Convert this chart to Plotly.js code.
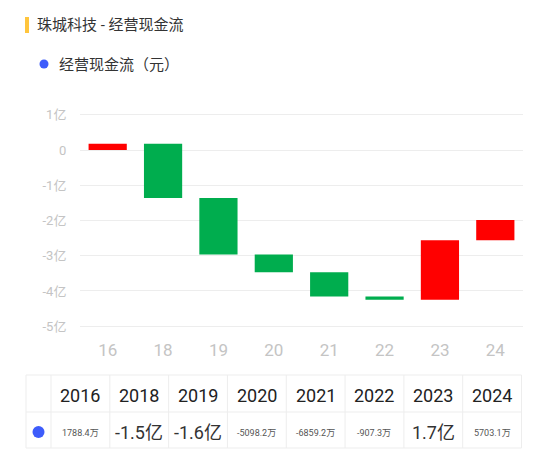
<!DOCTYPE html>
<html>
<head>
<meta charset="utf-8">
<script src="https://cdn.plot.ly/plotly-3.0.1.min.js"></script>
<style>html,body{margin:0;padding:0;background:#fff;}#chart{width:550px;height:453px;}</style>
</head>
<body>
<div id="chart"></div>
<script>
// ---- data ----
const categories = ['16', '18', '19', '20', '21', '22', '23', '24'];
const years = ['2016', '2018', '2019', '2020', '2021', '2022', '2023', '2024'];
// operating cash flow, unit: 亿元
const cashFlow = [0.178840, -1.54, -1.60, -0.509822, -0.685922, -0.090730, 1.69, 0.570310];
const valueLabels = ['1788.4万', '-1.5亿', '-1.6亿', '-5098.2万', '-6859.2万', '-907.3万', '1.7亿', '5703.1万'];
const yTickVals = [1, 0, -1, -2, -3, -4, -5];
const yTickText = ['1亿', '0', '-1亿', '-2亿', '-3亿', '-4亿', '-5亿'];
const chartTitle = '珠城科技 - 经营现金流';
const seriesName = '经营现金流（元）';

// ---- layout geometry ----
const W = 550, H = 453;
const M = {l: 80, r: 27, t: 113, b: 125};
const plotW = W - M.l - M.r, plotH = H - M.t - M.b;
const px = x => (x - M.l) / plotW;
const py = y => 1 - (y - M.t) / plotH;
const FONT = 'Roboto, "Noto Sans CJK SC", sans-serif';
const BLUE = '#3d5cfb';
const GRID = '#ededed';

const shapes = [];
const annotations = [];

// title marker
shapes.push({type: 'rect', xref: 'paper', yref: 'paper', x0: px(25), x1: px(29), y0: py(17), y1: py(33),
  fillcolor: '#ffc53d', line: {width: 0}});
// legend
shapes.push({type: 'circle', xref: 'paper', yref: 'paper', x0: px(39.5), x1: px(48.5), y0: py(59.5), y1: py(68.5),
  fillcolor: BLUE, line: {width: 0}});
annotations.push({xref: 'paper', yref: 'paper', x: px(57), y: py(64.5), xanchor: 'left', yanchor: 'middle',
  text: seriesName, showarrow: false, font: {family: FONT, size: 15, color: '#333'}});

// table
const tL = 26, tFirst = 51, tR = 521.5, rowY = [375, 412, 448];
const colW = (tR - tFirst) / years.length;
rowY.forEach(y => shapes.push({type: 'line', xref: 'paper', yref: 'paper', x0: px(tL), x1: px(tR), y0: py(y), y1: py(y),
  line: {color: GRID, width: 1}}));
const colEdges = [tL, tFirst];
years.forEach((_, i) => colEdges.push(tFirst + colW * (i + 1)));
colEdges.forEach(x => shapes.push({type: 'line', xref: 'paper', yref: 'paper', x0: px(x), x1: px(x), y0: py(rowY[0]), y1: py(rowY[2]),
  line: {color: GRID, width: 1}}));
shapes.push({type: 'circle', xref: 'paper', yref: 'paper', x0: px(32.5), x1: px(44.5), y0: py(426), y1: py(438),
  fillcolor: BLUE, line: {width: 0}});
years.forEach((yr, i) => {
  const cx = tFirst + colW * (i + 0.5);
  annotations.push({xref: 'paper', yref: 'paper', x: px(cx), y: py(395.5), xanchor: 'center', yanchor: 'middle',
    text: yr, showarrow: false, font: {family: FONT, size: 18, color: '#222'}});
  const big = Math.abs(cashFlow[i]) >= 1;
  annotations.push({xref: 'paper', yref: 'paper', x: px(cx), y: py(432.5), xanchor: 'center', yanchor: 'middle',
    text: valueLabels[i], showarrow: false, font: {family: FONT, size: big ? 18 : 9, color: big ? '#333' : '#555'}});
});

const trace = {
  type: 'waterfall',
  x: categories,
  y: cashFlow,
  measure: categories.map(() => 'relative'),
  increasing: {marker: {color: '#ff0000', line: {width: 0}}},
  decreasing: {marker: {color: '#00ad4e', line: {width: 0}}},
  connector: {visible: false},
  textinfo: 'none',
  showlegend: false,
  hoverinfo: 'x+y'
};

const layout = {
  width: W, height: H,
  margin: M,
  paper_bgcolor: '#fff', plot_bgcolor: '#fff',
  font: {family: FONT},
  title: {text: chartTitle, xref: 'container', yref: 'container', x: 37 / W, xanchor: 'left',
    y: 1 - 25 / H, yanchor: 'middle', font: {family: FONT, size: 15, color: '#333'}},
  waterfallgap: 0.31,
  showlegend: false,
  xaxis: {type: 'category', showgrid: false, zeroline: false, showline: false,
    ticks: 'outside', ticklen: 7, tickcolor: 'rgba(0,0,0,0)',
    tickfont: {family: FONT, size: 17, color: '#c4c4c4'}},
  yaxis: {range: [-5.05, 1.05], tickvals: yTickVals, ticktext: yTickText,
    showgrid: true, gridcolor: GRID, gridwidth: 1, zeroline: false, showline: false,
    ticks: 'outside', ticklen: 10, tickcolor: 'rgba(0,0,0,0)',
    tickfont: {family: FONT, size: 13, color: '#c4c4c4'}},
  shapes: shapes,
  annotations: annotations
};

Plotly.newPlot('chart', [trace], layout, {displayModeBar: false, staticPlot: true});
</script>
</body>
</html>
